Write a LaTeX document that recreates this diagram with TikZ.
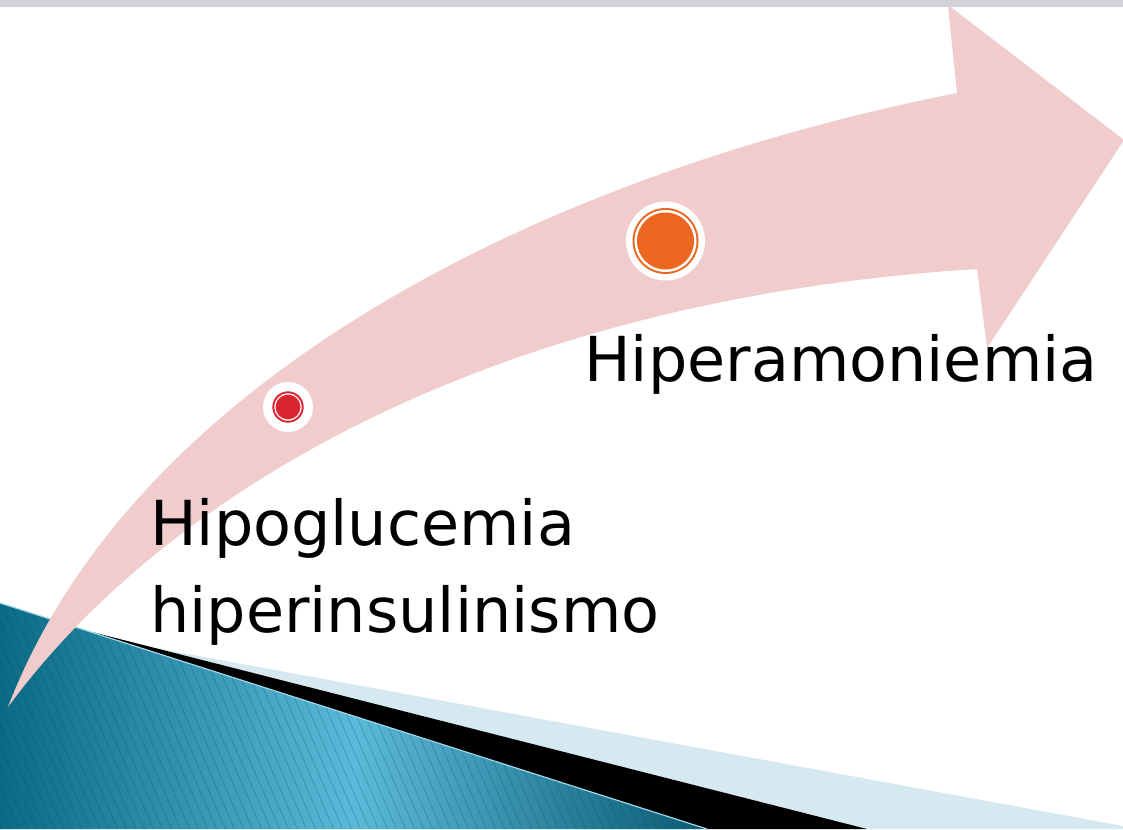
\documentclass[tikz,border=0pt]{standalone}
\usepackage{fontspec}
\setmainfont{DejaVu Sans}
\usepackage{xcolor}

\definecolor{arrowpink}{HTML}{F0CCCD}
\definecolor{glucred}{HTML}{DA2430}
\definecolor{amonorange}{HTML}{EB661F}
\definecolor{topgray}{HTML}{D2D2DA}
\definecolor{paleblue}{HTML}{D6E9F1}
\definecolor{tealdark}{HTML}{0B6A85}
\definecolor{teallight}{HTML}{5BBAD9}

\tikzset{
  stepdot/.style={circle, fill=white, inner sep=0pt, minimum size=#1},
  steplabel/.style={anchor=base west, inner sep=0pt, align=left,
    font=\fontsize{62}{87}\selectfont},
}

\begin{document}
\begin{tikzpicture}[x=1pt, y=-1pt]
    \useasboundingbox (0,0) rectangle (1123,829);
    \fill[white] (0,0) rectangle (1123,829);

    % Corner bands
    \fill[paleblue] (150,647) -- (1123,826) -- (1123,829) -- (867,829) -- cycle;
    \fill[black] (92,632) -- (867,829) -- (707,829) -- cycle;
    \begin{scope}
    \clip (0,603) -- (707,829) -- (0,829) -- cycle;
    \shade[left color=tealdark, right color=tealdark!85!black, middle color=teallight]
        (0,600) rectangle (710,829);
    \foreach \x in {-360,-351,...,720} {
        \draw[tealdark!70!black, opacity=0.35, line width=0.6pt] (\x,600) -- ++(100,230);
    }
    \end{scope}
    \draw[teallight!60!white, line width=1.2pt] (0,603) -- (707,829);

    % Curved arrow
    \fill[arrowpink] (8,707) .. controls (130,390) and (520,180) .. (957,93)
        -- (948,5) -- (1124,140) -- (987,348) -- (977,269)
        .. controls (480,300) and (160,500) .. (8,707) -- cycle;

    % Step markers
    \node[stepdot=50pt] (dotA) at (288,407) {};
    \fill[glucred] (dotA) circle (15.7pt);
    \fill[white] (dotA) circle (13.7pt);
    \fill[glucred] (dotA) circle (12.4pt);

    \node[stepdot=79pt] (dotB) at (665.5,241) {};
    \fill[amonorange] (dotB) circle (33pt);
    \fill[white] (dotB) circle (31pt);
    \fill[amonorange] (dotB) circle (28.5pt);

    % Labels (base is the last line)
    \node[steplabel] (hipo) at (150,632) {Hipoglucemia\\hiperinsulinismo};
    \node[steplabel] (amon) at (584,381) {Hiperamoniemia};

    % Top bar
    \fill[topgray] (0,0) rectangle (1123,7);
\end{tikzpicture}
\end{document}
